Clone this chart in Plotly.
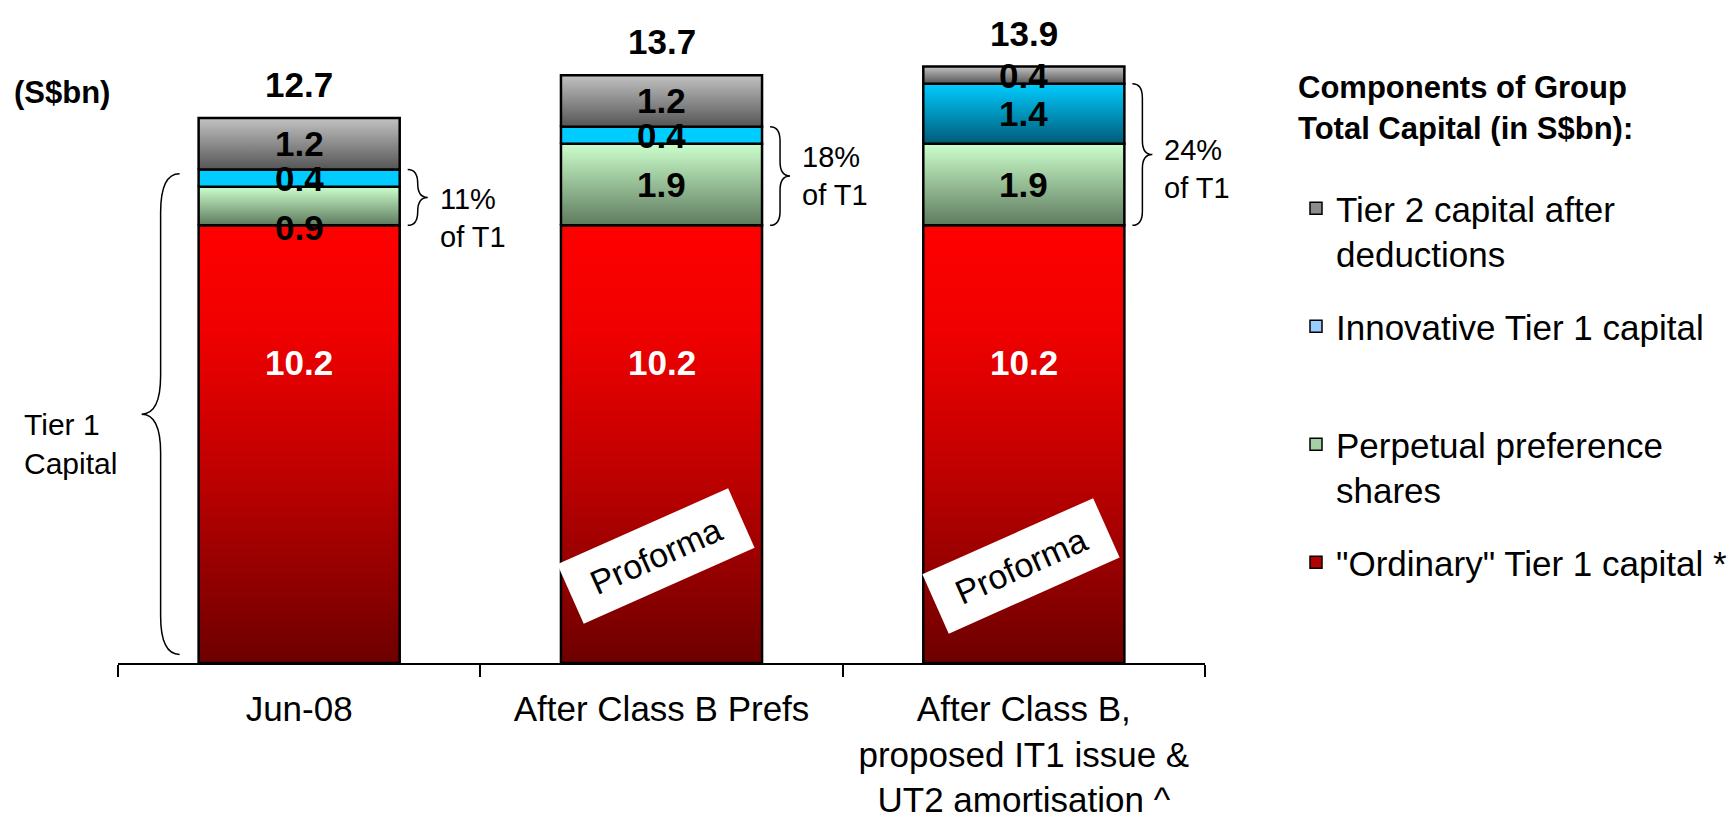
import plotly.graph_objects as go

# ---------------- data ----------------
categories = ["Jun-08", "After Class B Prefs",
              "After Class B,<br>proposed IT1 issue &<br>UT2 amortisation ^"]
ordinary_t1 = [10.2, 10.2, 10.2]
perpetual_prefs = [0.9, 1.9, 1.9]
innovative_t1 = [0.4, 0.4, 1.4]
tier2_capital = [1.2, 1.2, 0.4]
totals = [12.7, 13.7, 13.9]
series_names = ['"Ordinary" Tier 1 capital *', "Perpetual preference<br>shares",
                "Innovative Tier 1 capital", "Tier 2 capital after<br>deductions"]

# ---------------- style ----------------
FONT = "Liberation Sans, Arial, sans-serif"
W, H = 1733, 817
ML, MR, MT, MB = 118, 528, 40, 154
PLOT_W = W - ML - MR
PLOT_H = H - MT - MB
YMAX = 14.52
PX_PER_CAT = PLOT_W / 3.0
BAR_W = 0.555
HW = BAR_W / 2

RED = [[0, "#6e0000"], [0.44, "#c00000"], [0.76, "#f00000"], [1, "#ff0000"]]
GREEN = [[0, "#5e7a5e"], [1, "#ccffcc"]]
GREY = [[0, "#555555"], [1, "#c2c2c2"]]
CYAN_FLAT = [[0, "#00ccff"], [1, "#00ccff"]]
CYAN_GRAD = [[0, "#005a78"], [1, "#00ccff"]]

series = [
    dict(name=series_names[0], values=ordinary_t1, legend_color="#b30000",
         scales=[RED, RED, RED], label_color="white", label_shift=[82, 82, 82]),
    dict(name=series_names[1], values=perpetual_prefs, legend_color="#a6cfa6",
         scales=[GREEN, GREEN, GREEN], label_color="black", label_shift=[-21, 0, 0]),
    dict(name=series_names[2], values=innovative_t1, legend_color="#99ccff",
         scales=[CYAN_FLAT, CYAN_FLAT, CYAN_GRAD], label_color="black", label_shift=[0, 0, 0]),
    dict(name=series_names[3], values=tier2_capital, legend_color="#8c8c8c",
         scales=[GREY, GREY, GREY], label_color="black", label_shift=[0, 0, 0]),
]

fig = go.Figure()

# legend-carrying stacked bars (legend lists top-of-stack first)
n_series = len(series)
for k, s in enumerate(series):
    nm = s["name"] if "<br>" in s["name"] else s["name"] + "<br>&nbsp;"
    fig.add_trace(go.Bar(
        x=categories, y=s["values"], name=nm, width=BAR_W,
        legendgroup=f"g{k}", legendrank=1000 + (n_series - k),
        marker=dict(color=s["legend_color"], line=dict(color="black", width=1.5)),
        hoverinfo="x+y",
    ))

# gradient-filled segments drawn on a linear overlay axis
annotations = []
base = [0.0, 0.0, 0.0]
for s in series:
    for i, v in enumerate(s["values"]):
        y0, y1 = base[i], base[i] + v
        x0, x1 = i - HW, i + HW
        fig.add_trace(go.Scatter(
            x=[x0, x1, x1, x0, x0], y=[y0, y0, y1, y1, y0],
            xaxis="x2", yaxis="y", mode="lines",
            line=dict(color="black", width=2.5),
            fill="toself",
            fillgradient=dict(type="vertical", colorscale=s["scales"][i], start=y0, stop=y1),
            showlegend=False, hoverinfo="skip",
        ))
        annotations.append(dict(
            x=i, y=(y0 + y1) / 2, xref="x2", yref="y", text=f"<b>{v:.1f}</b>",
            showarrow=False, yshift=s["label_shift"][i],
            font=dict(family=FONT, size=35, color=s["label_color"]),
        ))
        base[i] = y1

# totals above bars
for i, t in enumerate(totals):
    annotations.append(dict(
        x=i, y=t, xref="x2", yref="y", text=f"<b>{t:.1f}</b>", showarrow=False,
        yanchor="bottom", yshift=12, font=dict(family=FONT, size=35, color="black"),
    ))

# braces
def brace(x_base, x_tip, y0, y1, r):
    xm = (x_base + x_tip) / 2
    ym = (y0 + y1) / 2
    return (f"M {x_base},{y0} Q {xm},{y0} {xm},{y0 + r} L {xm},{ym - r} "
            f"Q {xm},{ym} {x_tip},{ym} Q {xm},{ym} {xm},{ym + r} "
            f"L {xm},{y1 - r} Q {xm},{y1} {x_base},{y1}")

shapes = []
off = 8 / PX_PER_CAT
bw = 20 / PX_PER_CAT
pct_shift = [-21, 0, -14]
for i in range(3):
    y0 = ordinary_t1[i]
    y1 = ordinary_t1[i] + perpetual_prefs[i] + innovative_t1[i]
    xb = i + HW + off
    r = min(0.33, (y1 - y0) / 4)
    shapes.append(dict(type="path", xref="x2", yref="y",
                       path=brace(xb, xb + bw, y0, y1, r),
                       line=dict(color="black", width=1.5)))
    pct = round((perpetual_prefs[i] + innovative_t1[i]) / y1 * 100)
    annotations.append(dict(
        x=xb + bw, y=(y0 + y1) / 2, xref="x2", yref="y", xanchor="left",
        xshift=10, yshift=pct_shift[i], align="left", showarrow=False,
        text=f"{pct}%<br>of T1", font=dict(family=FONT, size=29, color="black"),
    ))

# big left brace for Tier 1 capital
t1_top = ordinary_t1[0] + perpetual_prefs[0] + innovative_t1[0]
xb_left = 0 - HW - 19 / PX_PER_CAT
xt_left = 0 - HW - 57 / PX_PER_CAT
shapes.append(dict(type="path", xref="x2", yref="y",
                   path=brace(xb_left, xt_left, 0.2, t1_top - 0.1, 0.9),
                   line=dict(color="black", width=1.5)))
annotations.append(dict(
    x=(22 - ML) / PLOT_W, y=t1_top / 2 - 0.65, xref="paper", yref="y",
    xanchor="left", align="left", showarrow=False, text="Tier 1<br>Capital",
    font=dict(family=FONT, size=30, color="black"),
))

# unit label
annotations.append(dict(
    x=(12 - ML) / PLOT_W, y=(H - MB - 92) / PLOT_H, xref="paper", yref="paper",
    xanchor="left", yanchor="middle", showarrow=False, text="<b>(S$bn)</b>",
    font=dict(family=FONT, size=31, color="black"),
))

# Proforma stamps
proforma_pos = {1: (-5.5, 2.49), 2: (-3.0, 2.26)}
for i, (dx, yv) in proforma_pos.items():
    annotations.append(dict(
        x=i + dx / PX_PER_CAT, y=yv, xref="x2", yref="y", text="Proforma",
        showarrow=False, textangle=-24, bgcolor="white", width=172, height=50,
        borderpad=7, font=dict(family=FONT, size=34, color="black"),
    ))

fig.update_layout(
    width=W, height=H, barmode="stack",
    margin=dict(l=ML, r=MR, t=MT, b=MB, autoexpand=False),
    paper_bgcolor="white", plot_bgcolor="white",
    font=dict(family=FONT, color="black"),
    xaxis=dict(type="category", categoryorder="array", categoryarray=categories,
               range=[-0.5, 2.5], showline=True, linecolor="black", linewidth=2,
               ticks="outside", tickson="boundaries", ticklen=12, tickwidth=2,
               tickcolor="black", ticklabelstandoff=14, showgrid=False,
               zeroline=False, tickfont=dict(family=FONT, size=35, color="black")),
    xaxis2=dict(overlaying="x", range=[-0.5, 2.5], visible=False, type="linear"),
    yaxis=dict(range=[0, YMAX], visible=False, showgrid=False, zeroline=False),
    legend=dict(x=(1296 - ML) / PLOT_W, xanchor="left",
                y=(H - MB - 58) / PLOT_H, yanchor="top",
                traceorder="grouped", tracegroupgap=24, valign="top",
                font=dict(family=FONT, size=35, color="black"),
                title=dict(text="<b>Components of Group<br>Total Capital (in S$bn):</b><br>&nbsp;",
                           font=dict(family=FONT, size=31, color="black"))),
    shapes=shapes, annotations=annotations, showlegend=True,
)

fig.write_html("out.html")
